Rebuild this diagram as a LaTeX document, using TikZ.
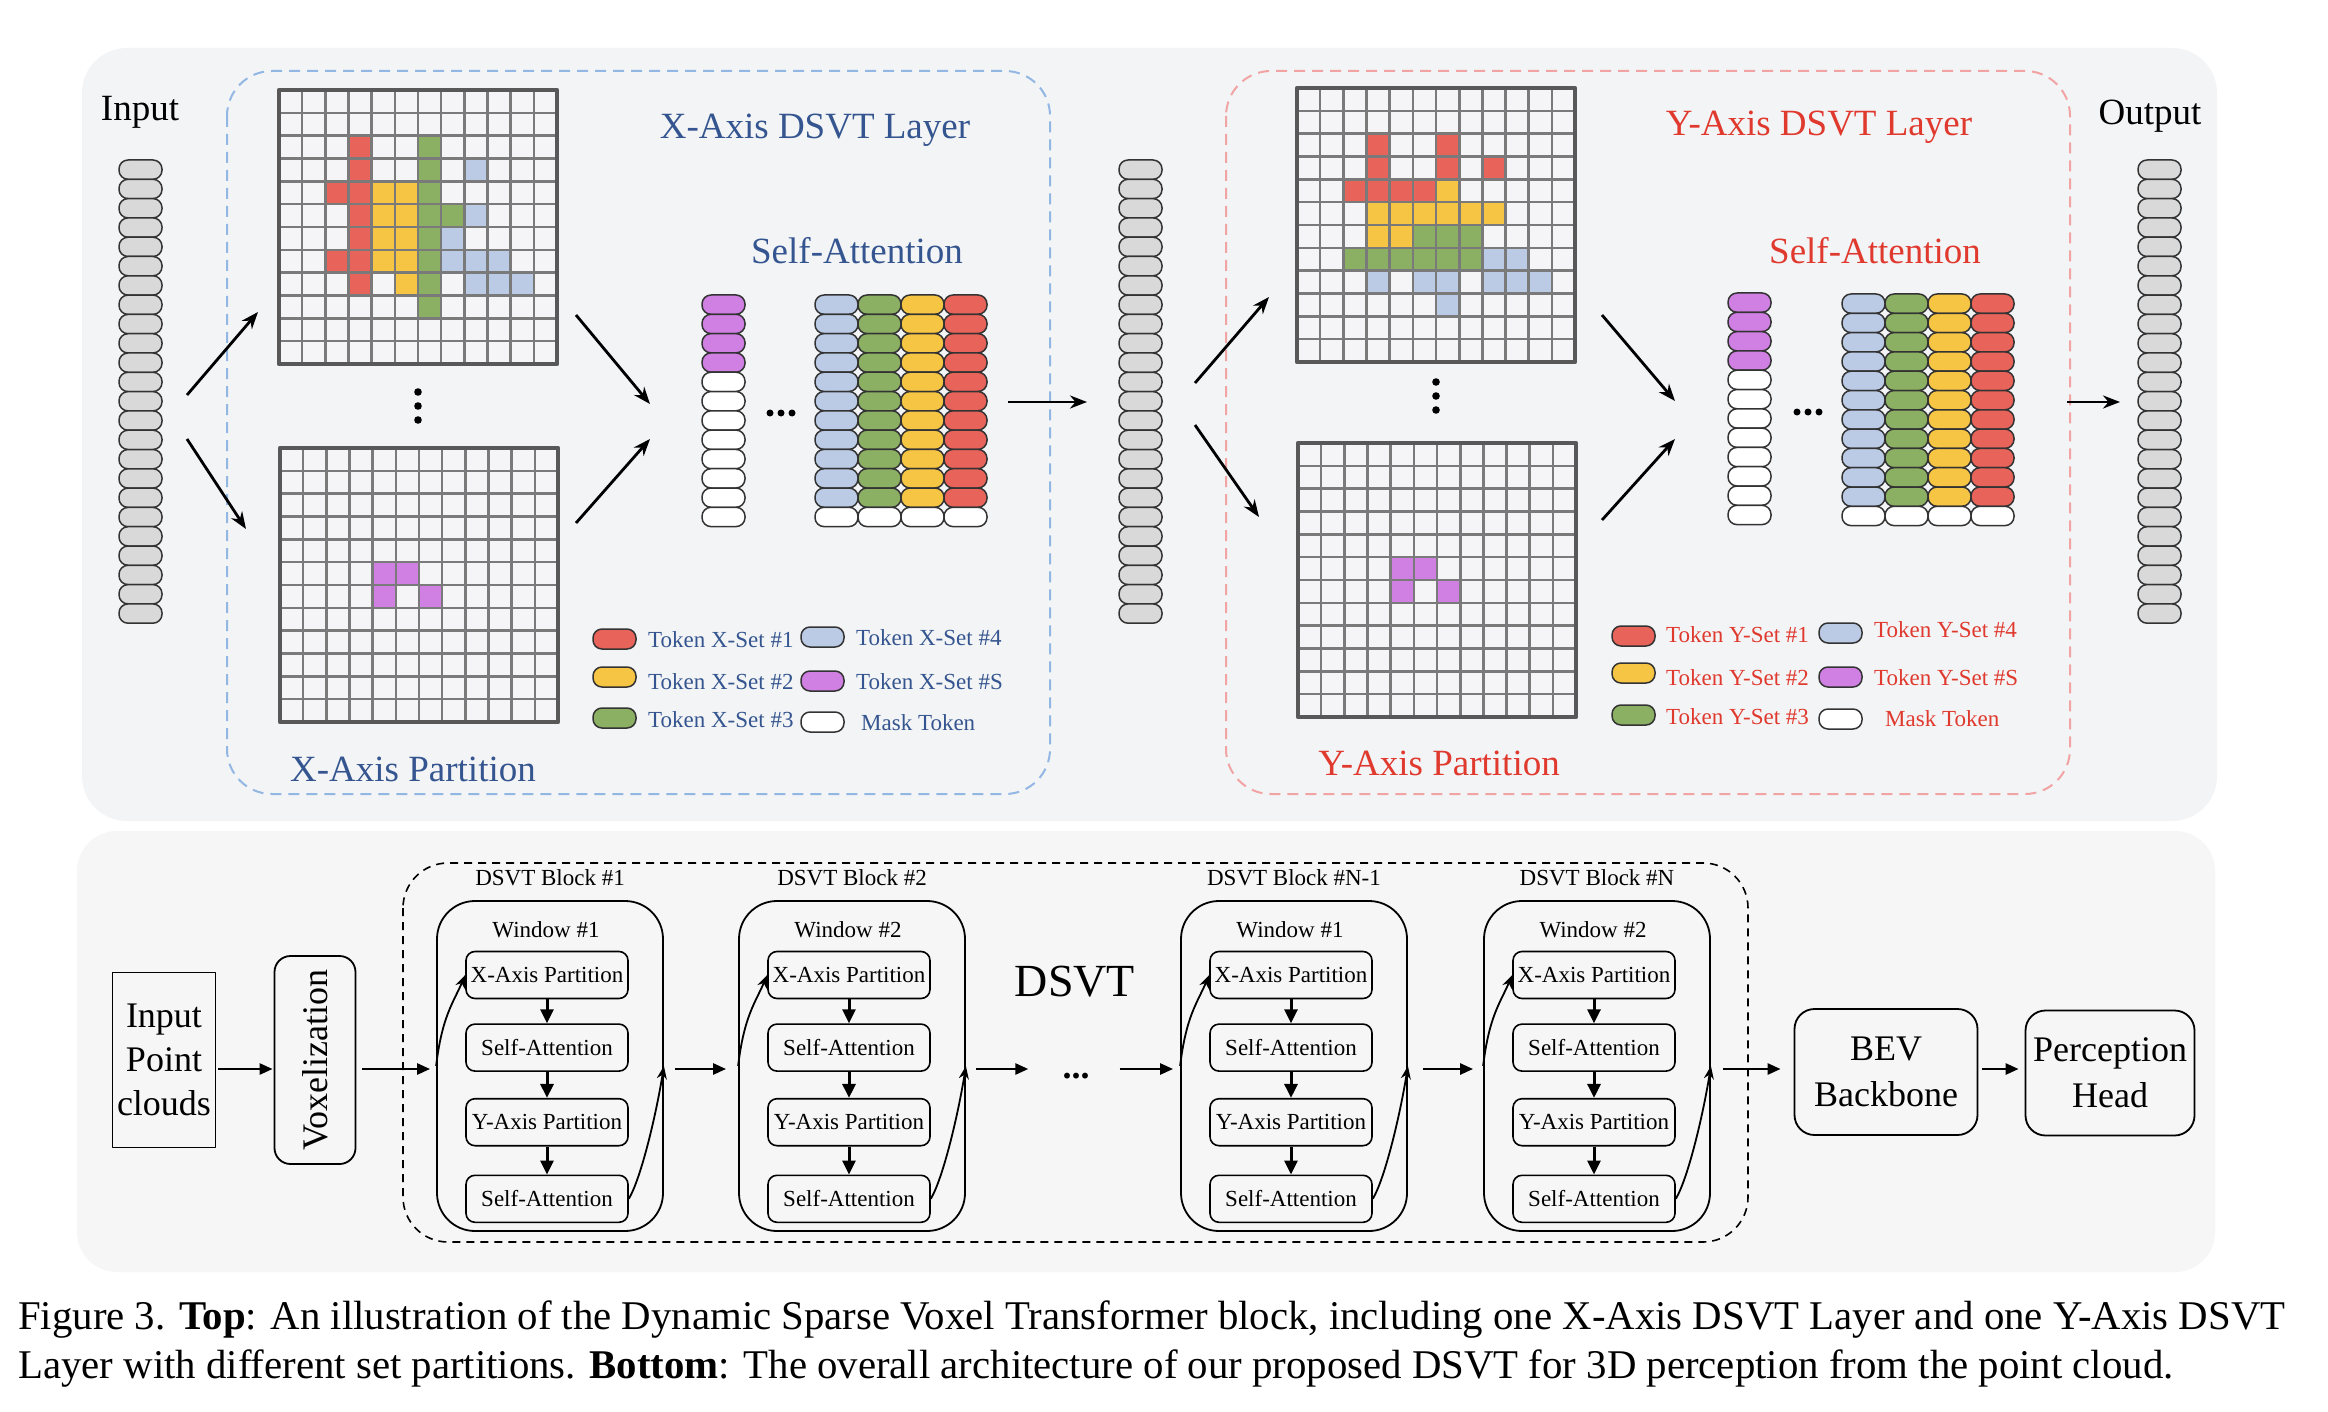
\documentclass[tikz,border=0pt]{standalone}
\usepackage{fontspec}
\setmainfont{Liberation Serif}
\usetikzlibrary{arrows.meta,positioning}

\definecolor{setred}{HTML}{E8635A}
\definecolor{setyel}{HTML}{F6C544}
\definecolor{setgrn}{HTML}{8BAF63}
\definecolor{setblu}{HTML}{BBCBE6}
\definecolor{setpur}{HTML}{D07FE3}
\definecolor{tokgray}{HTML}{D9D9D9}
\definecolor{xblue}{HTML}{34558F}
\definecolor{yred}{HTML}{E0392E}
\definecolor{xdash}{HTML}{93B7E3}
\definecolor{ydash}{HTML}{F2A3A3}
\definecolor{panelA}{HTML}{F3F4F6}
\definecolor{panelB}{HTML}{F6F6F6}
\definecolor{cellbg}{HTML}{F5F5F7}
\definecolor{gridln}{HTML}{7A7A7A}
\definecolor{gridbd}{HTML}{585858}

% 12x12 voxel grid: top left corner, coloured cells col/row/colour
\newcommand{\voxgrid}[3]{%
  \fill[cellbg] (#1,#2) rectangle ++(278,274);
  \foreach \c/\r/\k in {#3}
    \fill[\k] ({#1+\c*23.17},{#2+\r*22.83}) rectangle ++(23.17,22.83);
  \foreach \i in {1,...,11} {
    \draw[gridln, line width=2.6pt] ({#1+\i*23.17},#2) -- ++(0,274);
    \draw[gridln, line width=2.6pt] (#1,{#2+\i*22.83}) -- ++(278,0);
  }
  \draw[gridbd, line width=4.5pt] (#1,#2) rectangle ++(278,274);
}

% column of tokens: x, y, colour, number coloured, total
\newcommand{\pillcol}[5]{%
  \foreach \j in {1,...,#5} {
    \ifnum\j>#4\relax\def\pc{white}\else\def\pc{#3}\fi
    \draw[pill, fill=\pc] (#1,{#2+(\j-1)*19.3}) rectangle ++(43,19.3);
  }
}

\begin{document}
\begin{tikzpicture}[x=1pt, y=-1pt,
    line join=round,
    pill/.style={draw=black!80, line width=1.5pt, rounded corners=9pt},
    ttl/.style={font=\fontsize{37}{40}\selectfont, inner sep=0pt},
    lgd/.style={font=\fontsize{23}{26}\selectfont, inner sep=0pt, anchor=west},
    lab/.style={font=\fontsize{23}{26}\selectfont, inner sep=0pt},
    tarrow/.style={-{Stealth[length=17pt,width=13pt]}, line width=2.8pt},
    barrow/.style={-{Triangle[length=13pt,width=11pt]}, line width=2.6pt},
    sarrow/.style={-{Triangle[length=14pt,width=13pt]}, line width=3pt},
    carrow/.style={-{Stealth[length=13pt,width=10pt]}, line width=1.8pt},
    blk/.style={draw, line width=1.6pt, rounded corners=9pt, minimum width=162pt,
                minimum height=47pt, inner sep=0pt, font=\fontsize{23}{26}\selectfont},
    win/.style={draw, line width=1.8pt, rounded corners=38pt, minimum width=226pt,
                minimum height=330pt},
    bigbox/.style={draw, line width=1.8pt, rounded corners=20pt, align=center,
                inner sep=0pt, font=\fontsize{36}{46}\selectfont}]

  \useasboundingbox (0,0) rectangle (2328,1412);
  \fill[white] (0,0) rectangle (2328,1412);

  % panels
  \fill[panelA, rounded corners=45pt] (82,48) rectangle (2217,821);
  \fill[panelB, rounded corners=40pt] (77,831) rectangle (2215,1272);

  % ---------- top: X-Axis and Y-Axis DSVT layers ----------
  \draw[xdash, line width=2pt, dash pattern=on 11pt off 7pt, rounded corners=45pt]
    (227,71) rectangle (1050,794);
  \draw[ydash, line width=2pt, dash pattern=on 11pt off 7pt, rounded corners=45pt]
    (1226,71) rectangle (2070,794);

  \node[ttl] (inlab) at (140,112) {Input};
  \node[ttl] (outlab) at (2150,116) {Output};
  \node[ttl, text=xblue] (xlayer) at (815,130) {X-Axis DSVT Layer};
  \node[ttl, text=xblue] (xatt) at (857,251) {Self-Attention};
  \node[ttl, text=xblue] (xpart) at (413,769) {X-Axis Partition};
  \node[ttl, text=yred] (ylayer) at (1819,127) {Y-Axis DSVT Layer};
  \node[ttl, text=yred] (yatt) at (1875,251) {Self-Attention};
  \node[ttl, text=yred] (ypart) at (1439,763) {Y-Axis Partition};

  \pillcol{119}{160}{tokgray}{24}{24}
  \pillcol{1119}{160}{tokgray}{24}{24}
  \pillcol{2138}{160}{tokgray}{24}{24}

  \voxgrid{279}{90}{3/2/setred, 6/2/setgrn,
    3/3/setred, 6/3/setgrn, 8/3/setblu,
    2/4/setred, 3/4/setred, 4/4/setyel, 5/4/setyel, 6/4/setgrn,
    3/5/setred, 4/5/setyel, 5/5/setyel, 6/5/setgrn, 7/5/setgrn, 8/5/setblu,
    3/6/setred, 4/6/setyel, 5/6/setyel, 6/6/setgrn, 7/6/setblu,
    2/7/setred, 3/7/setred, 4/7/setyel, 5/7/setyel, 6/7/setgrn, 7/7/setblu, 8/7/setblu, 9/7/setblu,
    3/8/setred, 5/8/setyel, 6/8/setgrn, 8/8/setblu, 9/8/setblu, 10/8/setblu,
    6/9/setgrn}
  \voxgrid{280}{448}{4/5/setpur, 5/5/setpur, 4/6/setpur, 6/6/setpur}
  \voxgrid{1297}{88}{3/2/setred, 6/2/setred,
    3/3/setred, 6/3/setred, 8/3/setred,
    2/4/setred, 3/4/setred, 4/4/setred, 5/4/setred, 6/4/setyel,
    3/5/setyel, 4/5/setyel, 5/5/setyel, 6/5/setyel, 7/5/setyel, 8/5/setyel,
    3/6/setyel, 4/6/setyel, 5/6/setgrn, 6/6/setgrn, 7/6/setgrn,
    2/7/setgrn, 3/7/setgrn, 4/7/setgrn, 5/7/setgrn, 6/7/setgrn, 7/7/setgrn, 8/7/setblu, 9/7/setblu,
    3/8/setblu, 5/8/setblu, 6/8/setblu, 8/8/setblu, 9/8/setblu, 10/8/setblu,
    6/9/setblu}
  \voxgrid{1298}{443}{4/5/setpur, 5/5/setpur, 4/6/setpur, 6/6/setpur}

  % dots between grids and between token columns
  \foreach \yy in {392,406,420} \fill (418,\yy) circle (3.8pt);
  \foreach \yy in {382,396,410} \fill (1436,\yy) circle (3.8pt);
  \foreach \xx in {770,781,792} \fill (\xx,413) circle (3.5pt);
  \foreach \xx in {1797,1808,1819} \fill (\xx,412) circle (3.5pt);

  % token columns
  \pillcol{702}{295}{setpur}{4}{12}
  \pillcol{815}{295}{setblu}{11}{12}
  \pillcol{858}{295}{setgrn}{11}{12}
  \pillcol{901}{295}{setyel}{11}{12}
  \pillcol{944}{295}{setred}{11}{12}
  \pillcol{1728}{293}{setpur}{4}{12}
  \pillcol{1842}{294}{setblu}{11}{12}
  \pillcol{1885}{294}{setgrn}{11}{12}
  \pillcol{1928}{294}{setyel}{11}{12}
  \pillcol{1971}{294}{setred}{11}{12}

  % legends
  \foreach \px/\py/\k/\tx/\ty/\txt [count=\i] in {
      593/629/setred/648/640/{Token X-Set \#1}, 593/667/setyel/648/682/{Token X-Set \#2},
      593/708/setgrn/648/720/{Token X-Set \#3}, 801/627/setblu/856/638/{Token X-Set \#4},
      801/671/setpur/856/682/{Token X-Set \#S}, 801/712/white/861/723/{Mask Token}} {
    \draw[pill, fill=\k] (\px,\py) rectangle ++(43,20);
    \node[lgd, text=xblue] (lx\i) at (\tx,\ty) {\txt};
  }
  \foreach \px/\py/\k/\tx/\ty/\txt [count=\i] in {
      1612/626/setred/1666/635/{Token Y-Set \#1}, 1612/663/setyel/1666/678/{Token Y-Set \#2},
      1612/705/setgrn/1666/717/{Token Y-Set \#3}, 1819/623/setblu/1874/630/{Token Y-Set \#4},
      1819/667/setpur/1874/678/{Token Y-Set \#S}, 1819/709/white/1885/719/{Mask Token}} {
    \draw[pill, fill=\k] (\px,\py) rectangle ++(43,20);
    \node[lgd, text=yred] (ly\i) at (\tx,\ty) {\txt};
  }

  % arrow ends
  \coordinate (ina) at (187,395);   \coordinate (gxt) at (258,312);
  \coordinate (inb) at (187,439);   \coordinate (gxb) at (246,529);
  \coordinate (gxto) at (576,315);  \coordinate (tkxa) at (650,404);
  \coordinate (gxbo) at (576,523);  \coordinate (tkxb) at (650,439);
  \coordinate (tkxo) at (1008,402); \coordinate (mida) at (1087,402);
  \coordinate (midb) at (1195,383); \coordinate (gyt) at (1269,297);
  \coordinate (midc) at (1195,425); \coordinate (gyb) at (1259,517);
  \coordinate (gyto) at (1602,315); \coordinate (tkya) at (1675,401);
  \coordinate (gybo) at (1602,520); \coordinate (tkyb) at (1675,439);
  \coordinate (tkyo) at (2067,402); \coordinate (outa) at (2120,402);

  \draw[tarrow] (ina) -- (gxt);
  \draw[tarrow] (inb) -- (gxb);
  \draw[tarrow] (gxto) -- (tkxa);
  \draw[tarrow] (gxbo) -- (tkxb);
  \draw[tarrow] (tkxo) -- (mida);
  \draw[tarrow] (midb) -- (gyt);
  \draw[tarrow] (midc) -- (gyb);
  \draw[tarrow] (gyto) -- (tkya);
  \draw[tarrow] (gybo) -- (tkyb);
  \draw[tarrow] (tkyo) -- (outa);

  % ---------- bottom: overall architecture ----------
  \draw[line width=1.6pt, dash pattern=on 8pt off 6pt, rounded corners=45pt]
    (403,863) rectangle (1748,1242);
  \node[font=\fontsize{46}{50}\selectfont, inner sep=0pt] (dsvt) at (1075,982) {DSVT};

  \node[draw, line width=1.8pt, minimum width=103pt, minimum height=175pt, align=center,
        inner sep=0pt, font=\fontsize{36}{44}\selectfont] (inpc) at (164,1060)
        {Input\\Point\\clouds};
  \node[draw, line width=1.8pt, rounded corners=16pt, minimum width=208pt, minimum height=81pt,
        inner sep=0pt, rotate=90, font=\fontsize{36}{40}\selectfont] (vox) at (315,1060)
        {Voxelization};
  \node[bigbox, minimum width=183pt, minimum height=126pt] (bev) at (1886,1072)
        {BEV\\Backbone};
  \node[bigbox, minimum width=169pt, minimum height=125pt] (head) at (2110,1073)
        {Perception\\Head};
  \node[font=\fontsize{36}{40}\selectfont\bfseries, inner sep=0pt] (dots) at (1076,1076) {...};

  \foreach \w/\x/\blab/\wlab in {1/550/{DSVT Block \#1}/{Window \#1},
      2/852/{DSVT Block \#2}/{Window \#2}, 3/1294/{DSVT Block \#N-1}/{Window \#1},
      4/1597/{DSVT Block \#N}/{Window \#2}} {
    \node[win] (w\w) at (\x,1066) {};
    \node[lab] (bl\w) at (\x,878) {\blab};
    \node[lab] (wl\w) at (\x-4,930) {\wlab};
    \node[blk] (xp\w) at (\x-3,975) {X-Axis Partition};
    \node[blk, below=24pt of xp\w] (sa\w) {Self-Attention};
    \node[blk, below=26pt of sa\w] (yp\w) {Y-Axis Partition};
    \node[blk, below=28pt of yp\w] (sb\w) {Self-Attention};
    \draw[sarrow] (xp\w) -- (sa\w);
    \draw[sarrow] (sa\w) -- (yp\w);
    \draw[sarrow] (yp\w) -- (sb\w);
    \draw[carrow] (w\w.west) .. controls +(6,-50) and +(-12,28) .. (xp\w.west);
    \draw[carrow] (sb\w.east) .. controls +(12,-20) and +(-8,50) .. (w\w.east);
  }

  \coordinate (ax) at (0,1069);
  \draw[barrow, shorten <=2pt, shorten >=1pt] (inpc.east |- ax) -- (vox.north |- ax);
  \draw[barrow, shorten <=6pt, shorten >=6pt] (vox.south |- ax) -- (w1.west |- ax);
  \draw[barrow, shorten <=11pt, shorten >=12pt] (w1.east |- ax) -- (w2.west |- ax);
  \draw[barrow, shorten <=10pt, shorten >=34pt] (w2.east |- ax) -- (dots.west |- ax);
  \draw[barrow, shorten <=30pt, shorten >=7pt] (dots.east |- ax) -- (w3.west |- ax);
  \draw[barrow, shorten <=15pt, shorten >=10pt] (w3.east |- ax) -- (w4.west |- ax);
  \draw[barrow, shorten <=12pt, shorten >=13pt] (w4.east |- ax) -- (bev.west |- ax);
  \draw[barrow, shorten <=4pt, shorten >=6pt] (bev.east |- ax) -- (head.west |- ax);

  % ---------- caption ----------
  \node[anchor=north west, inner sep=0pt, align=left, font=\fontsize{40.8}{49}\selectfont]
    (cap) at (18,1301)
    {Figure 3. \textbf{Top}: An illustration of the Dynamic Sparse Voxel Transformer block, including one X-Axis DSVT Layer and one Y-Axis DSVT\\
     Layer with different set partitions. \textbf{Bottom}: The overall architecture of our proposed DSVT for 3D perception from the point cloud.};
\end{tikzpicture}
\end{document}
